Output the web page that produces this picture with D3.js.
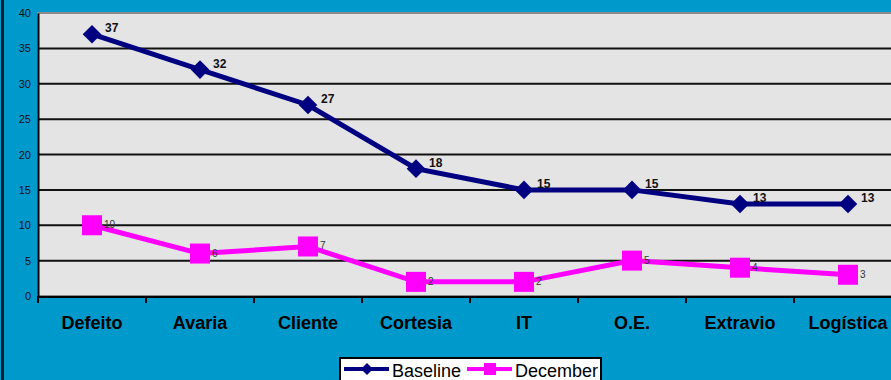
<!DOCTYPE html>
<html>
<head>
<meta charset="utf-8">
<script src="https://cdn.jsdelivr.net/npm/d3@7"></script>
<style>
	body { margin: 0; background: #0099cc; }
	svg { display: block; font-family: Arial, "Liberation Sans", sans-serif; }
</style>
</head>
<body>
<div id="chart"></div>
<script>
var categories = ["Defeito", "Avaria", "Cliente", "Cortesia", "IT", "O.E.", "Extravio", "Logística"];
var baseline = [37, 32, 27, 18, 15, 15, 13, 13];
var december = [10, 6, 7, 2, 2, 5, 4, 3];
var yTicks = [0, 5, 10, 15, 20, 25, 30, 35, 40];
var seriesNames = ["Baseline", "December"];

var width = 891,
	height = 380;

var margin = { top: 13, left: 38, bottom: 84 };

var svg = d3.select("#chart").append("svg")
	.attr("width", width)
	.attr("height", height);

svg.append("rect")
	.attr("width", width)
	.attr("height", height)
	.attr("fill", "#0099cc");

// dark edge on the left
svg.append("rect")
	.attr("x", 1).attr("y", 0)
	.attr("width", 3).attr("height", height)
	.attr("fill", "#0a2030");

var xScale = d3.scaleBand().domain(categories).range([margin.left, margin.left + 864]);
var yScale = d3.scaleLinear().domain([0, 40]).range([height - margin.bottom + 0, margin.top]);

// plot area
svg.append("rect")
	.attr("x", margin.left)
	.attr("y", yScale(40))
	.attr("width", 900)
	.attr("height", yScale(0) - yScale(40))
	.attr("fill", "#e4e4e4")
	.attr("stroke", "#8a8a8a")
	.attr("stroke-width", 2);

// gridlines
svg.append("g")
	.selectAll("line")
	.data(yTicks.filter(function(d) { return d > 0 && d < 40; }))
	.enter()
	.append("line")
	.attr("x1", margin.left).attr("x2", width)
	.attr("y1", function(d) { return yScale(d); })
	.attr("y2", function(d) { return yScale(d); })
	.attr("stroke", "#111")
	.attr("stroke-width", 2);

var yAxis = d3.axisLeft(yScale).tickValues(yTicks).tickSize(0).tickPadding(7);
var yg = svg.append("g")
	.attr("transform", "translate(" + margin.left + ",0)")
	.call(yAxis);
yg.select(".domain").attr("stroke", "#000").attr("stroke-width", 2);
yg.selectAll("text").attr("font-size", 11).attr("fill", "#111");

// bottom axis line + tick marks at band edges
svg.append("line")
	.attr("x1", margin.left - 1).attr("x2", width)
	.attr("y1", yScale(0) + 1).attr("y2", yScale(0) + 1)
	.attr("stroke", "#000").attr("stroke-width", 2);

svg.append("g")
	.selectAll("line")
	.data(categories)
	.enter()
	.append("line")
	.attr("x1", function(d) { return xScale(d); })
	.attr("x2", function(d) { return xScale(d); })
	.attr("y1", yScale(0) + 1)
	.attr("y2", yScale(0) + 7)
	.attr("stroke", "#000").attr("stroke-width", 2);

svg.append("g")
	.selectAll("text")
	.data(categories)
	.enter()
	.append("text")
	.attr("x", function(d) { return xScale(d) + xScale.bandwidth() / 2; })
	.attr("y", 329)
	.attr("text-anchor", "middle")
	.attr("font-size", 18)
	.attr("font-weight", "bold")
	.attr("fill", "#000")
	.text(function(d) { return d; });

var line = d3.line()
	.x(function(d, i) { return xScale(categories[i]) + xScale.bandwidth() / 2; })
	.y(function(d) { return yScale(d); });

var cx = function(d, i) { return xScale(categories[i]) + xScale.bandwidth() / 2; };

// December
svg.append("path")
	.attr("d", line(december))
	.attr("fill", "none")
	.attr("stroke", "#ff00ff")
	.attr("stroke-width", 5);

svg.append("g")
	.selectAll("rect")
	.data(december)
	.enter()
	.append("rect")
	.attr("x", function(d, i) { return cx(d, i) - 10; })
	.attr("y", function(d) { return yScale(d) - 10; })
	.attr("width", 20).attr("height", 20)
	.attr("fill", "#ff00ff");

svg.append("g")
	.selectAll("text")
	.data(december)
	.enter()
	.append("text")
	.attr("x", function(d, i) { return cx(d, i) + 12; })
	.attr("y", function(d) { return yScale(d) + 3; })
	.attr("font-size", 10)
	.attr("fill", "#333")
	.text(function(d) { return d; });

// Baseline
svg.append("path")
	.attr("d", line(baseline))
	.attr("fill", "none")
	.attr("stroke", "#000080")
	.attr("stroke-width", 5);

var diamond = d3.symbol().type(d3.symbolDiamond2).size(220);

svg.append("g")
	.selectAll("path")
	.data(baseline)
	.enter()
	.append("path")
	.attr("d", diamond)
	.attr("transform", function(d, i) { return "translate(" + cx(d, i) + "," + yScale(d) + ")"; })
	.attr("fill", "#000080");

svg.append("g")
	.selectAll("text")
	.data(baseline)
	.enter()
	.append("text")
	.attr("x", function(d, i) { return cx(d, i) + 13; })
	.attr("y", function(d) { return yScale(d) - 2; })
	.attr("font-size", 12)
	.attr("font-weight", "bold")
	.attr("fill", "#111")
	.text(function(d) { return d; });

// legend
var legend = svg.append("g").attr("transform", "translate(340,358)");
legend.append("rect")
	.attr("width", 261).attr("height", 40)
	.attr("fill", "#fff")
	.attr("stroke", "#000")
	.attr("stroke-width", 2);

var items = legend.selectAll(".item")
	.data(seriesNames)
	.enter()
	.append("g")
	.attr("class", "item")
	.attr("transform", function(d, i) { return "translate(" + (4 + i * 123) + ",11)"; });

items.append("line")
	.attr("x1", 0).attr("x2", 45)
	.attr("stroke", function(d, i) { return i ? "#ff00ff" : "#000080"; })
	.attr("stroke-width", 4);

items.append("path")
	.attr("d", function(d, i) {
		return i ? d3.symbol().type(d3.symbolSquare).size(144)() : d3.symbol().type(d3.symbolDiamond2).size(90)();
	})
	.attr("transform", "translate(23,0)")
	.attr("fill", function(d, i) { return i ? "#ff00ff" : "#000080"; });

items.append("text")
	.attr("x", 48)
	.attr("y", 8)
	.attr("font-size", 18)
	.attr("fill", "#000")
	.text(function(d) { return d; });
</script>
</body>
</html>
